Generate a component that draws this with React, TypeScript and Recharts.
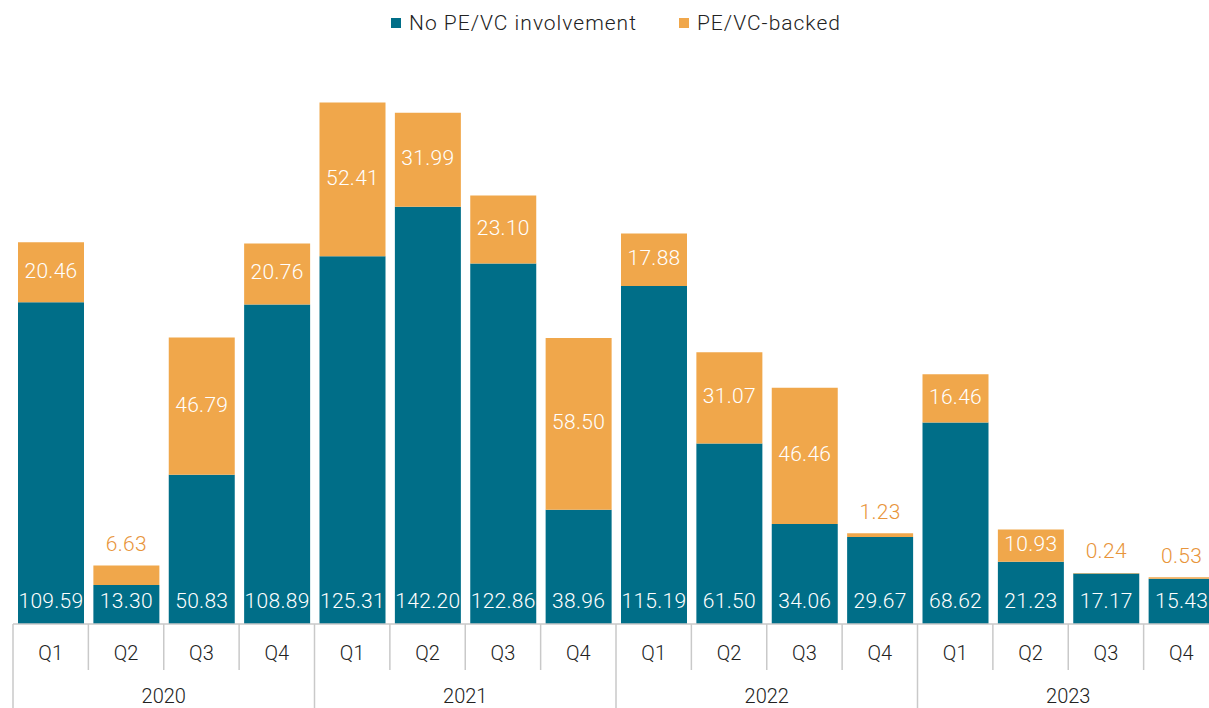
import { BarChart, Bar, XAxis, YAxis, Legend, LabelList } from 'recharts';

const quarters = ['Q1', 'Q2', 'Q3', 'Q4', 'Q1', 'Q2', 'Q3', 'Q4', 'Q1', 'Q2', 'Q3', 'Q4', 'Q1', 'Q2', 'Q3', 'Q4'];
const years = ['2020', '2020', '2020', '2020', '2021', '2021', '2021', '2021', '2022', '2022', '2022', '2022', '2023', '2023', '2023', '2023'];
const noPeVc = [109.59, 13.3, 50.83, 108.89, 125.31, 142.2, 122.86, 38.96, 115.19, 61.5, 34.06, 29.67, 68.62, 21.23, 17.17, 15.43];
const peVcBacked = [20.46, 6.63, 46.79, 20.76, 52.41, 31.99, 23.1, 58.5, 17.88, 31.07, 46.46, 1.23, 16.46, 10.93, 0.24, 0.53];

const data = quarters.map((q, i) => ({ q, year: years[i], noPe: noPeVc[i], pe: peVcBacked[i] }));

const TEAL = '#006e88';
const ORANGE = '#f0a74b';
const ORANGE_TEXT = '#e8953b';
const GRID = '#c9c9c9';
const FONT = 'Roboto, "Liberation Sans", sans-serif';

const W = 1213;
const H = 700;
const ML = 5;
const MR = 2;
const SLOT = (W - ML - MR) / data.length;

function QuarterTick(props: any) {
  const { x, y, payload } = props;
  const i = payload.index;
  const left = x - SLOT / 2;
  const yearStart = i % 4 === 0;
  return (
    <g>
      <line x1={left} x2={left} y1={y} y2={yearStart ? y + 90 : y + 46} stroke={GRID} strokeWidth={1.5} />
      <text x={x} y={y + 31} textAnchor="middle" dominantBaseline="middle" fontSize={20} fontWeight={300} fill="#222" fontFamily={FONT}>
        {payload.value}
      </text>
      {i % 4 === 1 && (
        <text x={x + SLOT / 2} y={y + 74} textAnchor="middle" dominantBaseline="middle" fontSize={20} fontWeight={300} fill="#222" fontFamily={FONT}>
          {years[i]}
        </text>
      )}
    </g>
  );
}

function BaseLabel(props: any) {
  const { x, y, width, height, value } = props;
  return (
    <text x={x + width / 2} y={y + height - 22} textAnchor="middle" dominantBaseline="middle" fontSize={21} fontWeight={300} letterSpacing={0.3} fill="#fff" fontFamily={FONT}>
      {Number(value).toFixed(2)}
    </text>
  );
}

function TopLabel(props: any) {
  const { x, y, width, height, value } = props;
  const inside = value >= 8;
  return (
    <text
      x={x + width / 2}
      y={inside ? y + height / 2 : y - 20}
      textAnchor="middle"
      dominantBaseline="middle"
      fontSize={21}
      fontWeight={300}
      letterSpacing={0.3}
      fill={inside ? '#fff' : ORANGE_TEXT}
      fontFamily={FONT}
    >
      {Number(value).toFixed(2)}
    </text>
  );
}

function LegendContent() {
  const items = [
    { label: 'No PE/VC involvement', color: TEAL },
    { label: 'PE/VC-backed', color: ORANGE },
  ];
  return (
    <div style={{ height: 29, display: 'flex', justifyContent: 'center', alignItems: 'center', gap: 42, fontFamily: FONT, fontSize: 21, fontWeight: 300, letterSpacing: 1, color: '#222' }}>
      {items.map((it) => (
        <div key={it.label} style={{ display: 'flex', alignItems: 'center', gap: 8 }}>
          <span style={{ width: 10, height: 10, background: it.color, display: 'inline-block' }} />
          <span>{it.label}</span>
        </div>
      ))}
    </div>
  );
}

export default function App() {
  return (
    <div style={{ position: 'absolute', left: 8, top: 8, width: 1201, height: H, overflow: 'hidden', background: '#fff' }}>
      <BarChart width={W} height={H} data={data} margin={{ top: 0, right: MR, bottom: 0, left: ML }} barSize={66}>
        <Legend verticalAlign="top" align="center" content={<LegendContent />} />
        <XAxis dataKey="q" height={84} axisLine={{ stroke: GRID, strokeWidth: 1.5 }} tickLine={false} tickSize={0} tickMargin={0} interval={0} tick={<QuarterTick />} />
        <YAxis hide domain={[0, 200]} />
        <Bar dataKey="noPe" stackId="a" fill={TEAL} isAnimationActive={false}>
          <LabelList dataKey="noPe" content={<BaseLabel />} />
        </Bar>
        <Bar dataKey="pe" stackId="a" fill={ORANGE} isAnimationActive={false}>
          <LabelList dataKey="pe" content={<TopLabel />} />
        </Bar>
      </BarChart>
    </div>
  );
}
